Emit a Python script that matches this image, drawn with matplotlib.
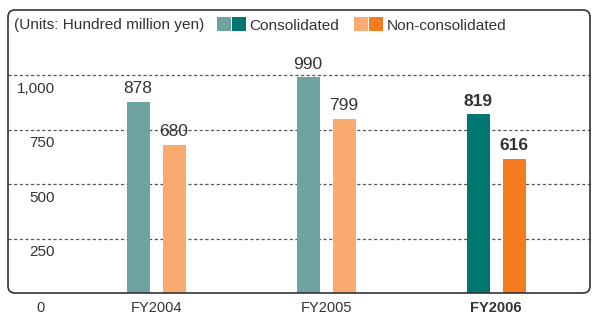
import matplotlib
matplotlib.use("Agg")
import matplotlib.pyplot as plt
from matplotlib.patches import FancyBboxPatch, Rectangle
from matplotlib.transforms import IdentityTransform

categories = ["FY2004", "FY2005", "FY2006"]
consolidated = [878, 990, 819]
non_consolidated = [680, 799, 616]
y_ticks = [250, 500, 750, 1000]
y_tick_labels = ["250", "500", "750", "1,000"]

cons_colors = ["#6fa3a1", "#6fa3a1", "#00786f"]
non_colors = ["#f9ab6f", "#f9ab6f", "#f47b20"]
TXT = "#333333"
FONT = ["Liberation Sans", "DejaVu Sans"]
plt.rcParams["font.family"] = FONT

W, H = 592, 315
fig = plt.figure(figsize=(W / 100, H / 100), dpi=100)

# axes: x px 8..590, y px (from top) 10..293
L, R, T, B = 8, 590, 10, 293
ax = fig.add_axes([L / W, 1 - B / H, (R - L) / W, (B - T) / H])
ax.set_facecolor("none")
for s in ax.spines.values():
    s.set_visible(False)

px_per_cat = 170.0
c0 = 156.0
ax.set_xlim((L - c0) / px_per_cat, (R - c0) / px_per_cat)
ymax = (B - T) / 0.218
ax.set_ylim(0, ymax)

xs = list(range(len(categories)))
bw = 23 / px_per_cat
off = 18 / px_per_cat
ax.bar([x - off for x in xs], consolidated, width=bw, color=cons_colors, zorder=3)
ax.bar([x + off for x in xs], non_consolidated, width=bw, color=non_colors, zorder=3)

for i, (c, n) in enumerate(zip(consolidated, non_consolidated)):
    bold = i == len(categories) - 1
    fw = "bold" if bold else "normal"
    ax.annotate(f"{c:,}", (i - off, c), xytext=(0, 4), textcoords="offset points",
                ha="center", va="bottom", fontsize=12.5, color=TXT, fontweight=fw, zorder=4)
    ax.annotate(f"{n:,}", (i + off, n), xytext=(0, 4), textcoords="offset points",
                ha="center", va="bottom", fontsize=12.5, color=TXT, fontweight=fw, zorder=4)

# dashed gridlines
for yt in y_ticks:
    ax.axhline(yt, color="#555555", lw=0.9, ls=(0, (2.5, 2)), zorder=1)

ax.set_xticks([])
ax.set_yticks([])

# y tick labels (placed below each gridline, right-aligned)
x_lab = (55 - c0) / px_per_cat
for yt, lab in zip(y_ticks, y_tick_labels):
    ax.annotate(lab, (x_lab, yt), xytext=(0, -10), textcoords="offset points",
                ha="right", va="center", fontsize=11, color=TXT)
ax.annotate("0", ((40 - c0) / px_per_cat, 0), xytext=(0, -10.5), textcoords="offset points",
            ha="center", va="center", fontsize=10.5, color=TXT, annotation_clip=False)
for i, cat in enumerate(categories):
    bold = i == len(categories) - 1
    ax.annotate(cat, (i, 0), xytext=(0, -10.5), textcoords="offset points",
                ha="center", va="center", fontsize=10.5, color=TXT,
                fontweight="bold" if bold else "normal", annotation_clip=False)

# rounded frame (display pixel coords)
frame = FancyBboxPatch((L, H - B), R - L, B - T,
                       boxstyle="round,pad=0,rounding_size=7",
                       transform=IdentityTransform(), fill=False,
                       edgecolor="#333333", lw=1.2, zorder=5)
fig.patches.append(frame)

# legend
LEG_FS = 11.1
ty = 1 - 25.5 / H
fig.text(14 / W, ty, "(Units: Hundred million yen)", ha="left", va="center",
         fontsize=LEG_FS, color=TXT)

def sq(x, color):
    fig.patches.append(Rectangle((x, H - 31), 14, 14, transform=IdentityTransform(),
                                 facecolor=color, edgecolor="none"))

sq(217, "#6fa3a1"); sq(232, "#00786f")
fig.text(249 / W, ty, "Consolidated", ha="left", va="center", fontsize=LEG_FS, color=TXT)
sq(354, "#f9ab6f"); sq(369, "#f47b20")
fig.text(387 / W, ty, "Non-consolidated", ha="left", va="center", fontsize=LEG_FS, color=TXT)

fig.savefig("out.png", dpi=100)
